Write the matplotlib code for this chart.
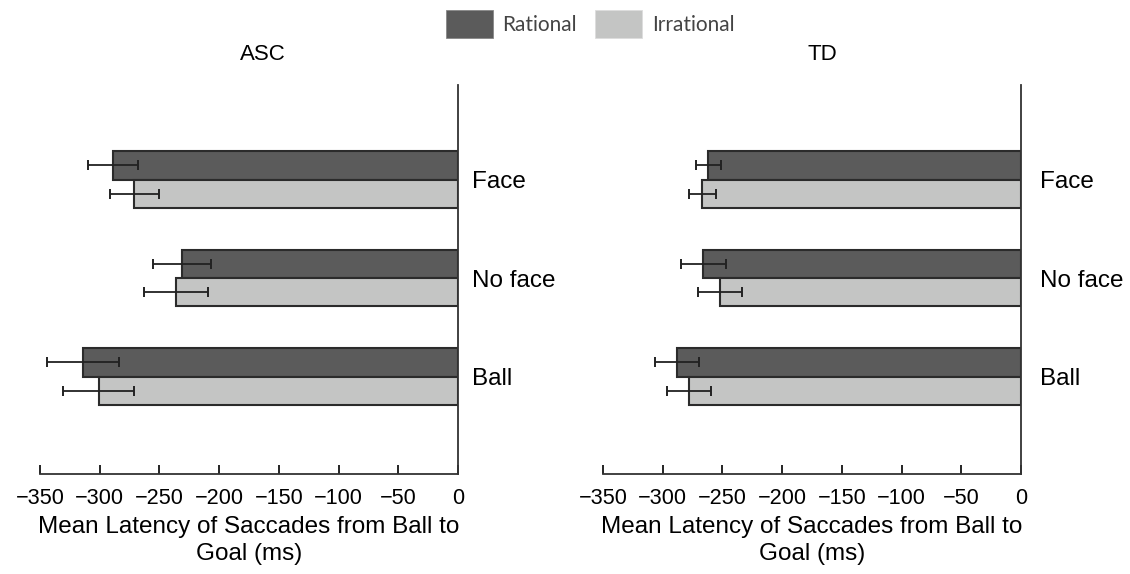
import matplotlib
matplotlib.use("Agg")
import matplotlib.pyplot as plt
from matplotlib.patches import Patch
import numpy as np

plt.rcParams['font.family'] = ['Liberation Sans', 'DejaVu Sans']

categories = ['Face', 'No face', 'Ball']
series = ['Rational', 'Irrational']

# ASC group
asc_rational = [-289, -231, -314]
asc_rational_err = [20.7, 24, 30]
asc_irrational = [-271, -236, -301]
asc_irrational_err = [20.3, 27, 29.5]

# TD group
td_rational = [-262, -266, -288]
td_rational_err = [10.5, 18.7, 18.7]
td_irrational = [-267, -252, -278]
td_irrational_err = [11.3, 18.2, 18.7]

xticks = [-350, -300, -250, -200, -150, -100, -50, 0]
xlabel = 'Mean Latency of Saccades from Ball to\nGoal (ms)'

dark = '#5b5b5b'
light = '#c4c5c4'
edge = '#2b2b2b'

W, H = 1130, 574
fig = plt.figure(figsize=(W / 100, H / 100), dpi=100)


def px_axes(x0, x1, y0, y1):
    return fig.add_axes([x0 / W, 1 - y1 / H, (x1 - x0) / W, (y1 - y0) / H])


def draw_panel(ax, rat, rat_err, irr, irr_err, title, title_x, label_pad):
    y = np.arange(len(categories))
    h = 0.286
    ax.barh(y - h / 2, rat, height=h, color=dark, edgecolor=edge, linewidth=1.5)
    ax.barh(y + h / 2, irr, height=h, color=light, edgecolor=edge, linewidth=1.5)
    ax.errorbar(rat, y - h / 2, xerr=rat_err, fmt='none', ecolor='#222222',
                elinewidth=1.3, capsize=3.5, capthick=1.4)
    ax.errorbar(irr, y + h / 2, xerr=irr_err, fmt='none', ecolor='#222222',
                elinewidth=1.3, capsize=3.5, capthick=1.4)
    ax.set_xlim(-350, 0)
    ax.set_ylim(2.99, -0.96)
    ax.set_xticks(xticks)
    ax.set_xticklabels([str(t).replace('-', '\u2212') for t in xticks], fontsize=15.6)
    ax.yaxis.tick_right()
    ax.set_yticks(y)
    ax.set_yticklabels(categories, fontsize=17.5)
    ax.tick_params(axis='y', length=0, pad=label_pad)
    ax.tick_params(axis='x', direction='in', length=6.5, width=1.2, pad=10)
    for s in ['top', 'left']:
        ax.spines[s].set_visible(False)
    for s in ['bottom', 'right']:
        ax.spines[s].set_linewidth(1.3)
        ax.spines[s].set_color('#333333')
    ax.set_xlabel(xlabel, fontsize=17.5, labelpad=5, linespacing=1.3)
    ax.text(title_x, 1.0 + 30 / 389, title, transform=ax.transAxes,
            ha='center', va='center', fontsize=16)


ax1 = px_axes(40, 458, 85, 474)
ax2 = px_axes(603, 1021, 85, 474)
draw_panel(ax1, asc_rational, asc_rational_err, asc_irrational, asc_irrational_err,
           'ASC', 0.533, 10)
draw_panel(ax2, td_rational, td_rational_err, td_irrational, td_irrational_err,
           'TD', 0.524, 14)

handles = [Patch(facecolor=dark, edgecolor='#888888', linewidth=0.6),
           Patch(facecolor=light, edgecolor='#dddddd', linewidth=0.6)]
leg = fig.legend(handles, series, loc='center', bbox_to_anchor=(590 / W, 1 - 24 / H),
                 ncol=2, frameon=False, handlelength=2.25,
                 handleheight=1.63, columnspacing=0.9, handletextpad=0.45,
                 prop={'family': ['Lato', 'DejaVu Sans'], 'size': 15})
for t in leg.get_texts():
    t.set_color('#444444')

fig.savefig('out.png', dpi=100)
